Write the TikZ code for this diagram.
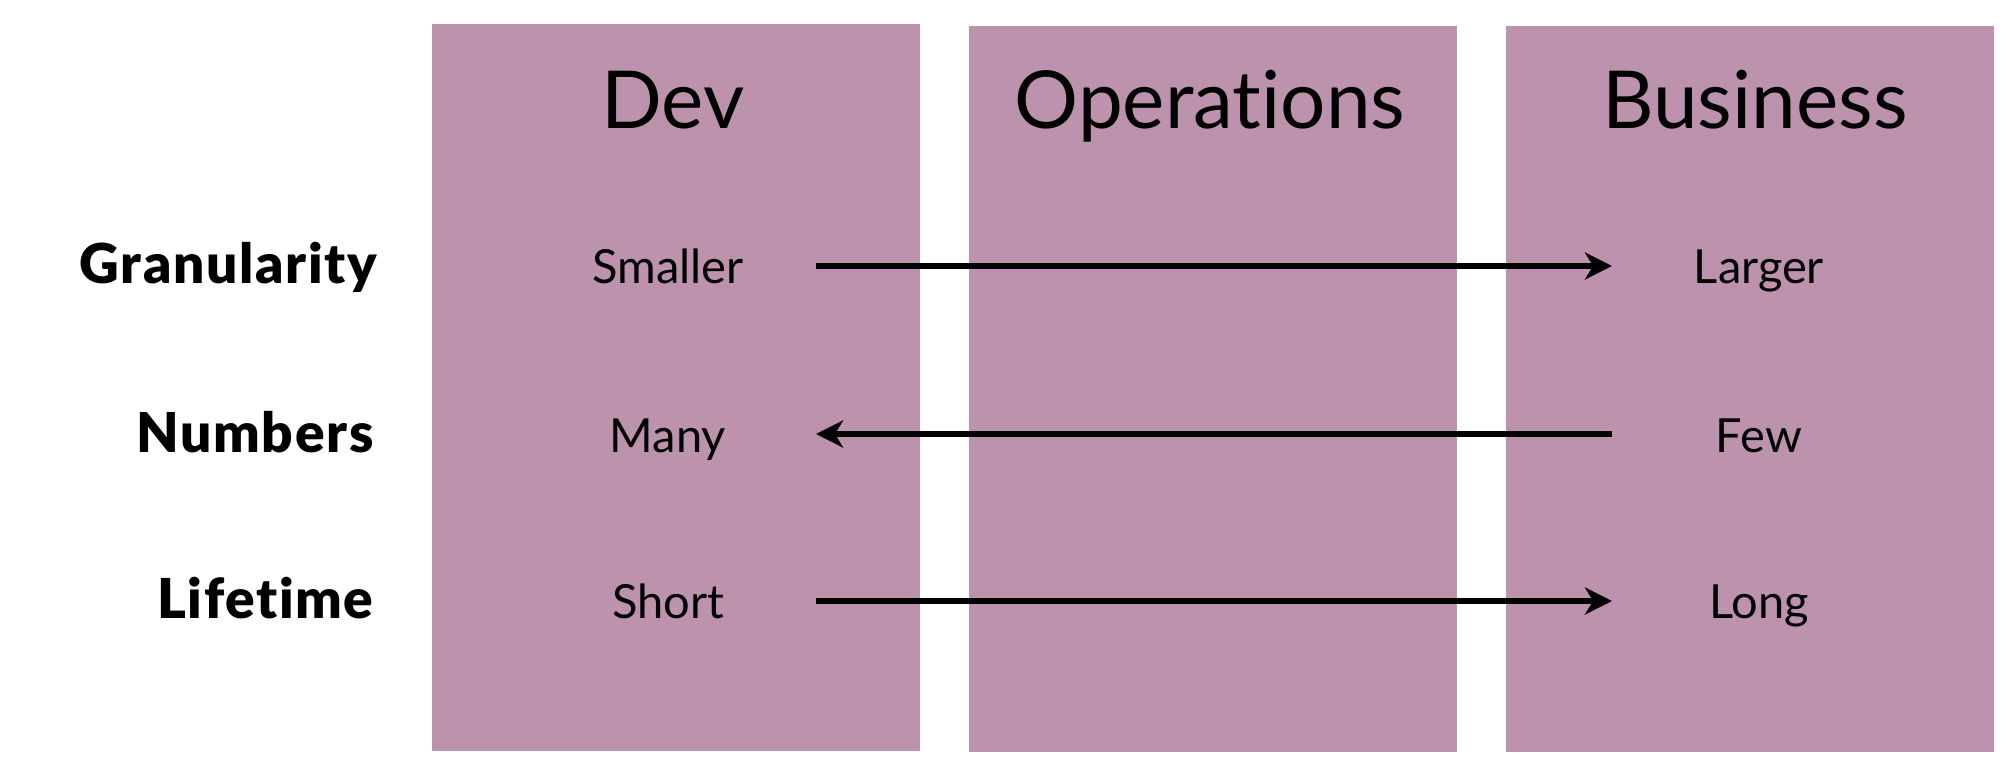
\documentclass[tikz,border=0pt]{standalone}
\usepackage{fontspec}
\setmainfont{Lato}[Ligatures=NoCommon]
\newfontfamily\heavyfont{Lato}[UprightFont=*-Black,BoldFont=*-Black,Extension=.ttf,Ligatures=NoCommon]
\usetikzlibrary{arrows.meta}
\definecolor{colfill}{HTML}{BC92AD}
\begin{document}
\begin{tikzpicture}[x=0.5pt,y=-0.5pt,
  col/.style={fill=colfill,draw=none},
  title/.style={anchor=base,inner sep=0pt,font=\fontsize{40}{48}\selectfont},
  val/.style={anchor=base,inner sep=0pt,font=\fontsize{23.5}{28}\selectfont},
  rowlab/.style={anchor=base east,inner sep=0pt,font=\fontsize{27.5}{32}\selectfont\heavyfont\addfontfeatures{LetterSpace=3}},
  arr/.style={line width=2.6pt,-{Stealth[length=13.5pt,width=13.5pt,inset=4pt]}}]
\useasboundingbox (0,0) rectangle (2015,771);
\fill[white] (0,0) rectangle (2015,771);
% columns
\path[col] (432,24) rectangle (920,751);
\path[col] (969,26) rectangle (1457,752);
\path[col] (1506,26) rectangle (1994,752);
% titles
\node[title] (tdev) at (673,128) {Dev};
\node[title] (tops) at (1210,128) {Operations};
\node[title] (tbus) at (1755,128) {Business};
% row labels
\node[rowlab] (gran) at (377,283) {Granularity};
\node[rowlab] (num) at (374,452) {Numbers};
\node[rowlab] (life) at (374,618) {Lifetime};
% values
\node[val] (smaller) at (668,283) {Smaller};
\node[val] (larger) at (1759,283) {Larger};
\node[val] (many) at (668,452) {Many};
\node[val] (few) at (1759,452) {Few};
\node[val] (short) at (668,618) {Short};
\node[val] (long) at (1759,618) {Long};
% arrow ends
\coordinate (g1) at (816,266);
\coordinate (g2) at (1612,266);
\coordinate (n1) at (1612,434);
\coordinate (n2) at (816,434);
\coordinate (l1) at (816,601);
\coordinate (l2) at (1612,601);
\draw[arr] (g1) -- (g2);
\draw[arr] (n1) -- (n2);
\draw[arr] (l1) -- (l2);
\end{tikzpicture}
\end{document}
